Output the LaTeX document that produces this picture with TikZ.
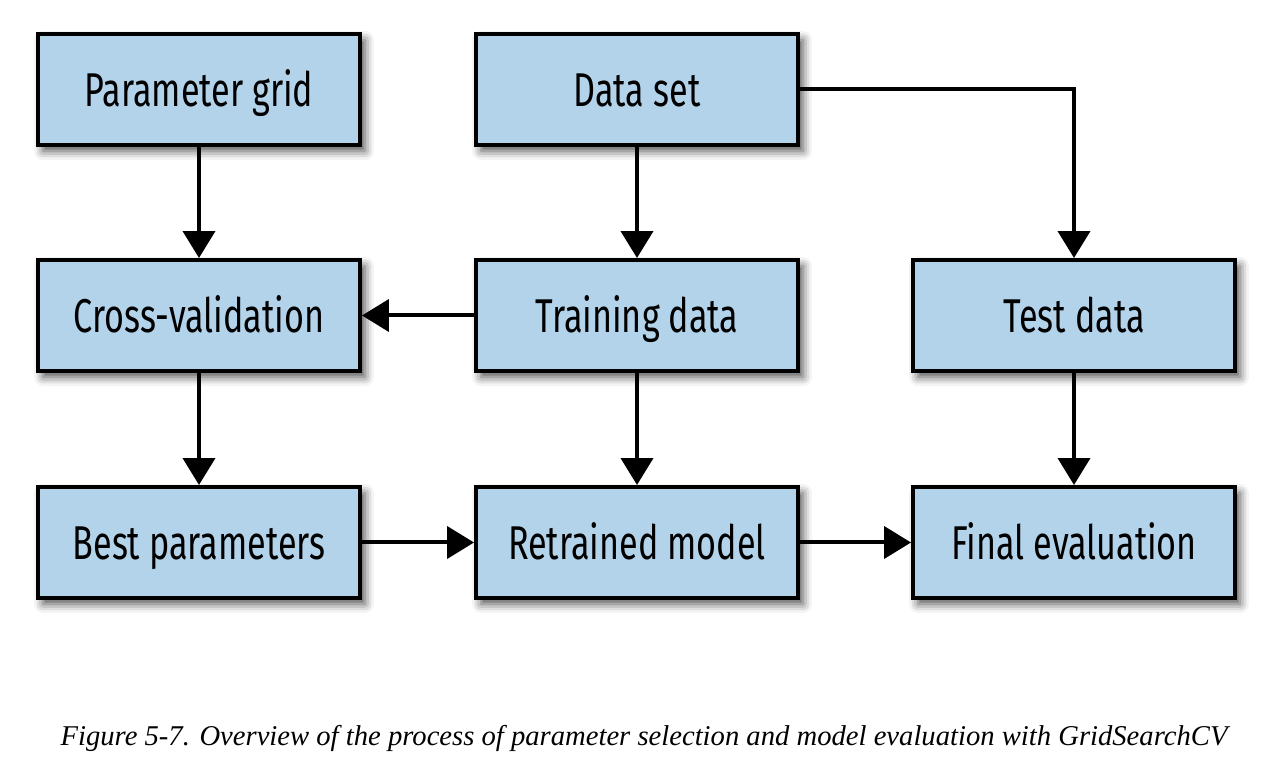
\documentclass[tikz,border=0pt]{standalone}
\usepackage{fontspec}
\setmainfont{Liberation Serif}
\newfontfamily\boxfont[FakeStretch=0.72]{Fira Sans}
\usetikzlibrary{arrows.meta,shadows.blur}
\definecolor{boxblue}{HTML}{B3D3EB}
\tikzset{
  stepbox/.style={draw=black, fill=boxblue, line width=0.08cm,
    minimum width=6.44cm, minimum height=2.22cm, inner sep=0pt,
    text height=19pt, text depth=0pt,
    font=\boxfont\fontsize{27}{30}\selectfont,
    blur shadow={shadow xshift=0.1cm, shadow yshift=-0.12cm, shadow blur radius=0.18cm, shadow opacity=70}},
  conn/.style={line width=0.08cm, -{Triangle[length=0.54cm, width=0.64cm]}}
}
\begin{document}
\begin{tikzpicture}[x=0.02cm, y=-0.02cm]
\useasboundingbox (0,0) rectangle (1268,776);
\node[stepbox] (pg) at (199,89.5) {Parameter grid};
\node[stepbox] (ds) at (637,89.5) {Data set};
\node[stepbox] (cv) at (199,315.5) {Cross-validation};
\node[stepbox] (td) at (637,315.5) {Training data};
\node[stepbox] (te) at (1074,315.5) {Test data};
\node[stepbox] (bp) at (199,542.5) {Best parameters};
\node[stepbox] (rm) at (637,542.5) {Retrained model};
\node[stepbox] (fe) at (1074,542.5) {Final evaluation};
\draw[conn] (pg) -- (cv);
\draw[conn] (ds) -- (td);
\draw[conn] (ds.east) -| (te.north);
\draw[conn] (td) -- (cv);
\draw[conn] (cv) -- (bp);
\draw[conn] (td) -- (rm);
\draw[conn] (te) -- (fe);
\draw[conn] (bp) -- (rm);
\draw[conn] (rm) -- (fe);
\node[font=\itshape\fontsize{16.3}{19}\selectfont, inner sep=0pt] (cap) at (644,738) {Figure 5-7. Overview of the process of parameter selection and model evaluation with GridSearchCV};
\end{tikzpicture}
\end{document}
